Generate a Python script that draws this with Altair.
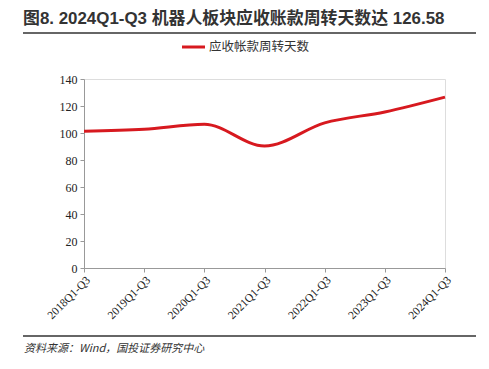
import altair as alt
import pandas as pd

periods = ["2018Q1-Q3", "2019Q1-Q3", "2020Q1-Q3", "2021Q1-Q3", "2022Q1-Q3", "2023Q1-Q3", "2024Q1-Q3"]
days = [101.3, 102.8, 106.5, 90.3, 107.5, 115.6, 126.58]
series_name = "应收帐款周转天数"
title_text = "图8. 2024Q1-Q3 机器人板块应收账款周转天数达 126.58"
source_text = "资料来源：Wind，国投证券研究中心"
y_ticks = [0, 20, 40, 60, 80, 100, 120, 140]

df = pd.DataFrame({"period": periods, "days": days})

W, H = 361, 189
RED = "#d7191f"
CJK = "Noto Sans CJK SC"

base = alt.Chart(df)

line = base.mark_line(color=RED, strokeWidth=3, interpolate="monotone").encode(
    x=alt.X("period:N", sort=periods, title=None,
            scale=alt.Scale(type="point", padding=0),
            axis=alt.Axis(labelAngle=-45, labelFont="Liberation Serif", labelFontSize=11.5,
                          labelColor="#222222", domainColor="#999999", tickColor="#999999",
                          tickSize=4, labelPadding=2, grid=False)),
    y=alt.Y("days:Q", title=None,
            scale=alt.Scale(domain=[0, 140], nice=False),
            axis=alt.Axis(values=y_ticks, labelFont="Liberation Serif", labelFontSize=12,
                          labelColor="#222222", domainColor="#999999", tickColor="#999999",
                          tickSize=4, labelPadding=3, grid=False)),
)

one = alt.Chart(pd.DataFrame({"t": [title_text]}))

title = one.mark_text(align="left", baseline="middle", font="Liberation Sans, " + CJK, fontSize=16.9,
                      fontWeight="bold", color="#333333").encode(
    x=alt.value(-61), y=alt.value(-60), text=alt.value(title_text))

title_rule = one.mark_rule(color="#333333", strokeWidth=1.5).encode(
    x=alt.value(-61), x2=alt.value(392), y=alt.value(-46))

legend_swatch = one.mark_rule(color=RED, strokeWidth=3).encode(
    x=alt.value(98), x2=alt.value(121), y=alt.value(-32))

legend_text = one.mark_text(align="left", baseline="middle", font=CJK, fontSize=12.5,
                            color="#333333").encode(
    x=alt.value(125), y=alt.value(-32), text=alt.value(series_name))

source_rule = one.mark_rule(color="#333333", strokeWidth=1.5).encode(
    x=alt.value(-61), x2=alt.value(392), y=alt.value(257))

source = one.mark_text(align="left", baseline="middle", font=CJK, fontSize=11,
                       fontStyle="italic", color="#333333").encode(
    x=alt.value(-60), y=alt.value(270), text=alt.value(source_text))

chart = alt.layer(line, title, title_rule, legend_swatch, legend_text, source_rule, source).properties(
    width=W, height=H,
    autosize=alt.AutoSizeParams(type="none"),
    padding={"left": 76, "top": 71, "right": 36, "bottom": 93},
).configure_view(stroke=None).configure(background="white")

chart.save("out.html", embed_options={"renderer": "svg", "actions": False})
